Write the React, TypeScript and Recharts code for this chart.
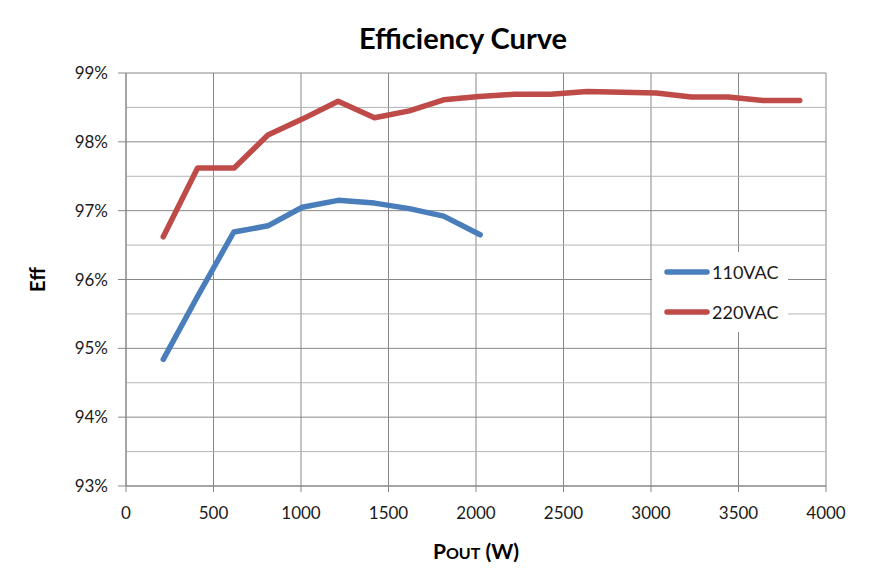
import React from 'react'
import { LineChart, Line, XAxis, YAxis, CartesianGrid, ReferenceLine } from 'recharts'

// load (W) and efficiency (%)
const pout110 = [213, 410, 616, 811, 1007, 1212, 1420, 1619, 1815, 2024]
const eff110 = [94.84, 95.76, 96.69, 96.78, 97.05, 97.15, 97.11, 97.03, 96.92, 96.65]
const pout220 = [213, 409, 618, 811, 1007, 1212, 1420, 1619, 1815, 2018, 2220, 2427, 2636, 3030, 3230, 3440, 3640, 3850]
const eff220 = [96.62, 97.62, 97.62, 98.1, 98.33, 98.59, 98.35, 98.45, 98.61, 98.66, 98.69, 98.69, 98.73, 98.71, 98.65, 98.65, 98.6, 98.6]

const xTicks = [0, 500, 1000, 1500, 2000, 2500, 3000, 3500, 4000]
const yTicks = [93, 94, 95, 96, 97, 98, 99]
const yMinor = [93.5, 94.5, 95.5, 96.5, 97.5, 98.5]

const seriesNames = ['110VAC', '220VAC']
const seriesColors = ['#4a7ebb', '#be4b48']

const data110 = pout110.map((p, i) => ({ p, eff: eff110[i] }))
const data220 = pout220.map((p, i) => ({ p, eff: eff220[i] }))

const FONT = 'Lato, "Open Sans", sans-serif'

const LegendBox = () => (
  <div style={{ position: 'absolute', left: 652, top: 252, background: '#fff', width: 136, padding: '6px 0 6px 12px', boxSizing: 'border-box' }}>
    {seriesNames.map((n, i) => (
      <div key={n} style={{ display: 'flex', alignItems: 'center', height: 28, marginBottom: i === 0 ? 12 : 0 }}>
        <svg width={46} height={10}>
          <line x1={3} y1={5} x2={43} y2={5} stroke={seriesColors[i]} strokeWidth={5.5} strokeLinecap="round" />
        </svg>
        <span style={{ fontSize: 18, color: '#1a1a1a', fontFamily: FONT, marginLeft: 2 }}>{n}</span>
      </div>
    ))}
  </div>
)

const XLabel = (props: any) => {
  const { viewBox } = props
  const cx = viewBox.x + viewBox.width / 2
  return (
    <text x={cx} y={559} textAnchor="middle" fontWeight="bold" fill="#000" style={{ fontFamily: FONT }}>
      <tspan fontSize={21}>P</tspan>
      <tspan fontSize={16}>OUT</tspan>
      <tspan fontSize={21}> (W)</tspan>
    </text>
  )
}

const YLabel = (props: any) => {
  const { viewBox } = props
  const cy = viewBox.y + viewBox.height / 2
  return (
    <text x={45} y={cy} transform={`rotate(-90 45 ${cy})`} textAnchor="middle" fontSize={20} fontWeight="bold" fill="#000" style={{ fontFamily: FONT }}>
      Eff
    </text>
  )
}

const App: React.FC = () => {
  return (
    <div style={{ position: 'absolute', left: 0, top: 0, width: 893, height: 581, background: '#fff', fontFamily: FONT }}>
      <div style={{ position: 'absolute', left: 0, top: 20, width: 926, textAlign: 'center', fontSize: 29, fontWeight: 'bold', color: '#000' }}>
        Efficiency Curve
      </div>
      <LineChart width={893} height={581} margin={{ top: 73, right: 67, bottom: 65, left: 0 }}>
        <CartesianGrid stroke="#878787" strokeWidth={1} />
        {yMinor.map(v => (
          <ReferenceLine key={v} y={v} stroke="#b4b4b4" strokeWidth={1} />
        ))}
        <XAxis
          type="number"
          dataKey="p"
          domain={[0, 4000]}
          ticks={xTicks}
          height={30}
          allowDuplicatedCategory={false}
          stroke="#878787"
          tickSize={6}
          tickMargin={15}
          tick={{ fill: '#1a1a1a', fontSize: 17 }}
          label={<XLabel />}
        />
        <YAxis
          type="number"
          dataKey="eff"
          domain={[93, 99]}
          ticks={yTicks}
          width={126}
          stroke="#878787"
          tickSize={8}
          tickMargin={10}
          tickFormatter={(v: number) => `${v}%`}
          tick={{ fill: '#1a1a1a', fontSize: 17 }}
          label={<YLabel />}
        />
        <Line
          data={data110}
          dataKey="eff"
          name={seriesNames[0]}
          stroke={seriesColors[0]}
          strokeWidth={5.5}
          strokeLinecap="round"
          strokeLinejoin="round"
          dot={false}
          activeDot={false}
          isAnimationActive={false}
        />
        <Line
          data={data220}
          dataKey="eff"
          name={seriesNames[1]}
          stroke={seriesColors[1]}
          strokeWidth={5.5}
          strokeLinecap="round"
          strokeLinejoin="round"
          dot={false}
          activeDot={false}
          isAnimationActive={false}
        />
      </LineChart>
      <LegendBox />
    </div>
  )
}

export default App
